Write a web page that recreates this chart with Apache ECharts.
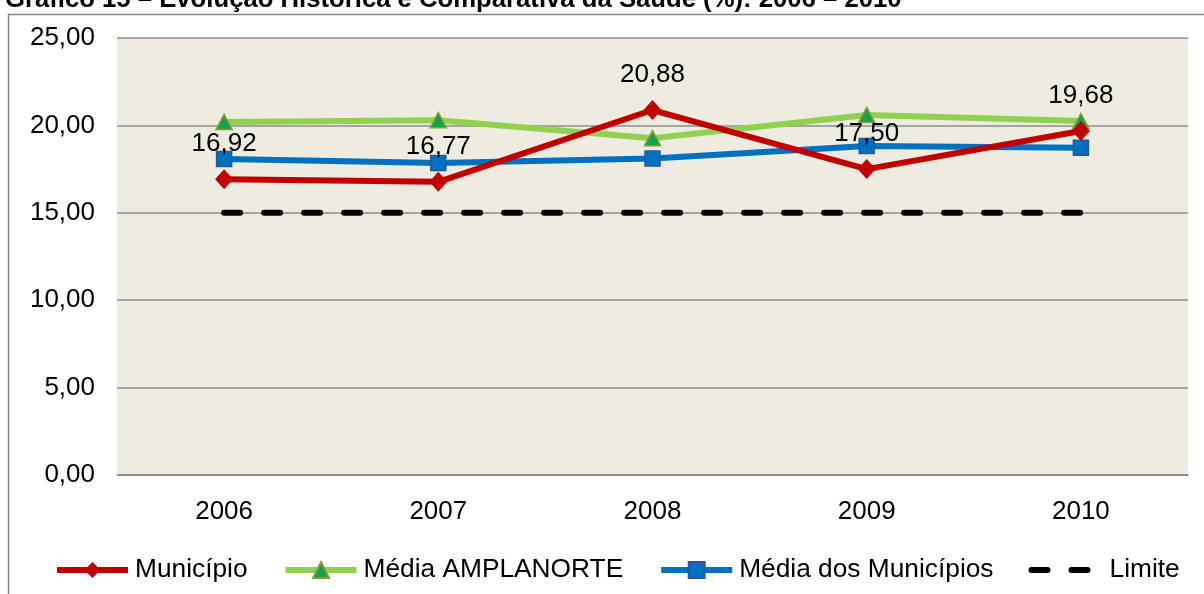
<!DOCTYPE html>
<html>
<head>
<meta charset="utf-8">
<script src="https://cdn.jsdelivr.net/npm/echarts@6/dist/echarts.min.js"></script>
<style>
  html, body { margin: 0; padding: 0; background: #fff; }
  #chart { width: 1204px; height: 594px; }
</style>
</head>
<body>
<div id="chart"></div>
<script>
const years = ["2006", "2007", "2008", "2009", "2010"];
const municipio = [16.92, 16.77, 20.88, 17.5, 19.68];
const mediaAmplanorte = [20.2, 20.3, 19.27, 20.6, 20.25];
const mediaMunicipios = [18.08, 17.85, 18.1, 18.82, 18.72];
const limite = [15, 15, 15, 15, 15];

const font = "'Liberation Sans', Arial, sans-serif";
const fmt = (v) => Number(v).toFixed(2).replace(".", ",");

let chart = echarts.init(document.getElementById("chart"));

let option = {
  animation: false,
  backgroundColor: "#fff",
  textStyle: { fontFamily: font },
  title: {
    text: "Gráfico 15 – Evolução Histórica e Comparativa da Saúde (%): 2006 – 2010",
    left: 0,
    top: -18,
    textStyle: { fontSize: 25.7, fontWeight: "bold", color: "#000", fontFamily: font },
  },
  graphic: [
    {
      type: "rect",
      shape: { x: 8.5, y: 14.5, width: 1210, height: 600 },
      style: { fill: null, stroke: "#878787", lineWidth: 1.5 },
      silent: true,
    },
  ],
  grid: {
    left: 117,
    right: 16,
    top: 38,
    bottom: 119,
    show: true,
    backgroundColor: "#EEEBE0",
    borderWidth: 0,
  },
  legend: {
    bottom: 6,
    left: 49,
    itemWidth: 71,
    itemHeight: 20,
    itemGap: 35,
    lineStyle: { width: 6 },
    textStyle: { fontSize: 26.3, color: "#000", fontFamily: font, padding: [0, 0, 0, 2] },
    data: [
      { name: "Município" },
      { name: "Média AMPLANORTE" },
      { name: "Média dos Municípios" },
      { name: "Limite", itemStyle: { color: "transparent", borderWidth: 0 } },
    ],
  },
  xAxis: {
    type: "category",
    data: years,
    boundaryGap: true,
    axisLine: { show: true, lineStyle: { color: "#868686", width: 1.5 } },
    axisTick: { show: false },
    axisLabel: { fontSize: 26, color: "#000", margin: 24, fontFamily: font },
  },
  yAxis: {
    type: "value",
    min: 0,
    max: 25,
    interval: 5,
    axisLine: { show: false },
    axisTick: { show: false },
    splitLine: { lineStyle: { color: "#8C8C8C", width: 1.5 } },
    axisLabel: { fontSize: 26, color: "#000", margin: 22, fontFamily: font, formatter: fmt },
  },
  series: [
    {
      name: "Limite",
      type: "line",
      data: limite,
      symbol: "none",
      z: 1,
      lineStyle: { color: "#000", width: 6, type: [16, 24], cap: "round" },
      itemStyle: { color: "#000" },
    },
    {
      name: "Média AMPLANORTE",
      type: "line",
      data: mediaAmplanorte,
      symbol: "triangle",
      symbolSize: [16, 15],
      z: 2,
      lineStyle: { color: "#92D050", width: 6 },
      itemStyle: { color: "#12A24A", borderColor: "#8A9A3A", borderWidth: 1.5 },
    },
    {
      name: "Média dos Municípios",
      type: "line",
      data: mediaMunicipios,
      symbol: "rect",
      symbolSize: 15,
      z: 3,
      lineStyle: { color: "#0070C0", width: 6 },
      itemStyle: { color: "#0070C0", borderColor: "#2F5597", borderWidth: 1.5 },
    },
    {
      name: "Município",
      type: "line",
      data: municipio,
      symbol: "diamond",
      symbolSize: [18, 20],
      z: 4,
      lineStyle: { color: "#C00000", width: 6 },
      itemStyle: { color: "#C00000" },
      label: {
        show: true,
        position: "top",
        distance: 12,
        fontSize: 26,
        color: "#000",
        fontFamily: font,
        formatter: (p) => fmt(p.value),
      },
    },
  ],
};

chart.setOption(option);
</script>
</body>
</html>
